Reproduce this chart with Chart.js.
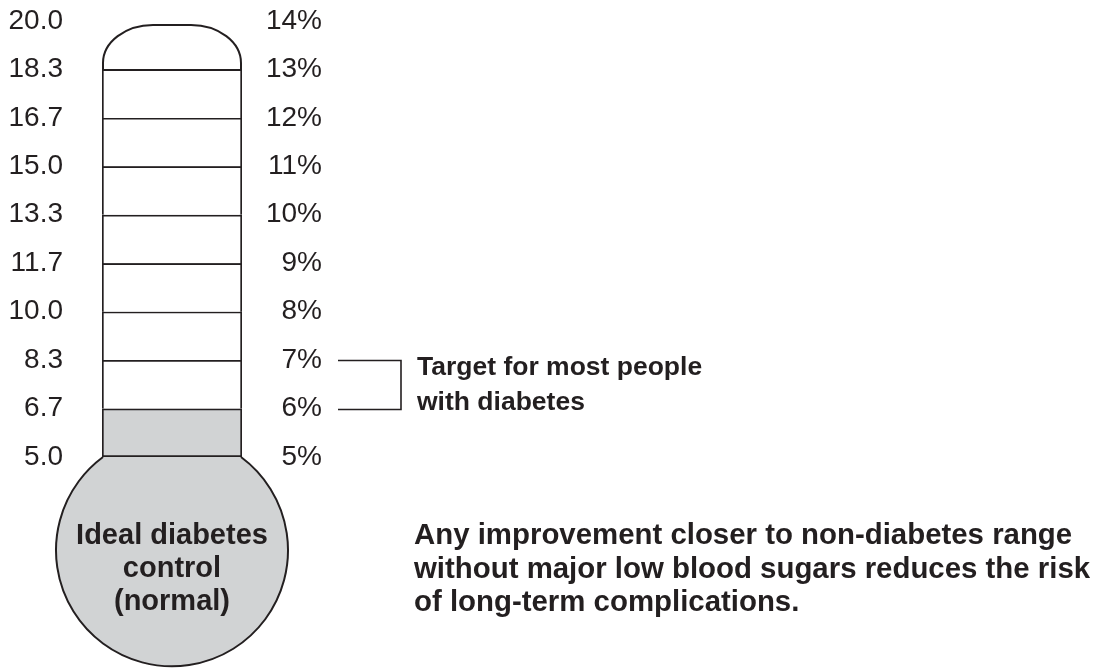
<!DOCTYPE html>
<html>
<head>
<meta charset="utf-8">
<script src="https://cdn.jsdelivr.net/npm/chart.js@4"></script>
<style>
  html, body { margin: 0; padding: 0; background: #fff; }
  #wrap { width: 1097px; height: 668px; position: relative; }
</style>
</head>
<body>
<div id="wrap"><canvas id="thermoChart"></canvas></div>
<script>
// HbA1c levels (right scale) and the matching average glucose in mmol/L (left scale)
const a1cLevels = [5, 6, 7, 8, 9, 10, 11, 12, 13, 14];
const mmolLabels = ["5.0", "6.7", "8.3", "10.0", "11.7", "13.3", "15.0", "16.7", "18.3", "20.0"];
const a1cLabels = ["5%", "6%", "7%", "8%", "9%", "10%", "11%", "12%", "13%", "14%"];
const normalRange = [5, 6];
const targetRange = [6, 7];

const targetNote = ["Target for most people", "with diabetes"];
const bulbNote = ["Ideal diabetes", "control", "(normal)"];
const riskNote = [
  "Any improvement closer to non-diabetes range",
  "without major low blood sugars reduces the risk",
  "of long-term complications.",
];

const INK = "#231f20";
const FILL = "#d1d3d4";
const FONT = '"Liberation Sans", Arial, Helvetica, sans-serif';
const BULB_R = 116;

// one floating bar per band of the tube, all on the same x
const bands = a1cLevels.slice(0, -1).map((v, i) => [v, a1cLevels[i + 1]]);
const capIndex = bands.length - 1;

function labelFor(list, value) {
  const i = a1cLevels.indexOf(value);
  return i >= 0 ? list[i] : "";
}

function bulbCenter(bar) {
  const half = bar.width / 2 - 1;
  return { half, cy: bar.base + Math.sqrt(BULB_R * BULB_R - half * half) };
}

const thermoShape = {
  id: "thermoShape",
  beforeDatasetsDraw(chart) {
    const { ctx } = chart;
    const bars = chart.getDatasetMeta(0).data;
    const bottom = bars[0];
    const { half, cy } = bulbCenter(bottom);
    const a1 = Math.atan2(bottom.base - cy, half);

    ctx.save();
    // bulb
    ctx.beginPath();
    ctx.arc(bottom.x, cy, BULB_R, 0, Math.PI * 2);
    ctx.fillStyle = FILL;
    ctx.fill();
    ctx.beginPath();
    ctx.arc(bottom.x, cy, BULB_R, a1, Math.PI - a1);
    ctx.strokeStyle = INK;
    ctx.lineWidth = 2;
    ctx.stroke();

    // rounded cap on the top band
    const cap = bars[capIndex];
    const left = cap.x - cap.width / 2 + 1;
    const right = cap.x + cap.width / 2 - 1;
    const top = cap.y + 4;
    const base = cap.base;
    const rx = 50;
    const ry = 38;
    const k = 0.45;
    ctx.beginPath();
    ctx.moveTo(left, base);
    ctx.lineTo(left, top + ry);
    ctx.bezierCurveTo(left, top + ry * k, left + rx * k, top, left + rx, top);
    ctx.lineTo(right - rx, top);
    ctx.bezierCurveTo(right - rx * k, top, right, top + ry * k, right, top + ry);
    ctx.lineTo(right, base);
    ctx.fillStyle = "#fff";
    ctx.fill();
    ctx.stroke();
    ctx.restore();
  },
  afterDatasetsDraw(chart) {
    const { ctx, chartArea } = chart;
    const yR = chart.scales.yR;
    const bottom = chart.getDatasetMeta(0).data[0];
    const { cy } = bulbCenter(bottom);

    ctx.save();
    ctx.fillStyle = INK;
    ctx.textBaseline = "middle";

    // text in the bulb
    ctx.font = "bold 29px " + FONT;
    ctx.textAlign = "center";
    bulbNote.forEach((line, i) => ctx.fillText(line, bottom.x, cy - 14 + i * 33));

    // note on the right
    ctx.font = "bold 29.4px " + FONT;
    ctx.textAlign = "left";
    riskNote.forEach((line, i) => ctx.fillText(line, 414, cy - 14 + i * 33.5));

    // target bracket
    const y7 = Math.round(yR.getPixelForValue(targetRange[1])) + 0.5;
    const y6 = Math.round(yR.getPixelForValue(targetRange[0])) + 0.5;
    const x0 = chartArea.right + 96;
    const x1 = x0 + 63;
    ctx.strokeStyle = INK;
    ctx.lineWidth = 1.6;
    ctx.beginPath();
    ctx.moveTo(x0, y7);
    ctx.lineTo(x1, y7);
    ctx.lineTo(x1, y6);
    ctx.lineTo(x0, y6);
    ctx.stroke();

    ctx.font = "bold 26.5px " + FONT;
    const mid = (y6 + y7) / 2;
    targetNote.forEach((line, i) => ctx.fillText(line, x1 + 16, mid - 17 + i * 35));
    ctx.restore();
  },
};

function flatAxis(position, width, padding, labels, crossAlign) {
  return {
    type: "linear",
    position,
    min: a1cLevels[0],
    max: a1cLevels[a1cLevels.length - 1],
    grid: { display: false },
    border: { display: false },
    afterFit: (s) => {
      s.width = width;
      s.paddingTop = 0;
      s.paddingBottom = 0;
    },
    afterBuildTicks: (s) => {
      s.ticks = a1cLevels.map((v) => ({ value: v }));
    },
    ticks: {
      padding,
      crossAlign,
      color: INK,
      font: { family: FONT, size: 28 },
      callback: (v) => labelFor(labels, v),
    },
  };
}

new Chart(document.getElementById("thermoChart").getContext("2d"), {
  type: "bar",
  data: {
    labels: ["HbA1c"],
    datasets: [
      {
        data: bands.map((b) => ({ x: "HbA1c", y: b })),
        backgroundColor: (c) =>
          c.dataIndex === capIndex ? "rgba(0,0,0,0)" : c.raw && c.raw.y[1] <= normalRange[1] ? FILL : "#fff",
        borderColor: INK,
        borderWidth: (c) =>
          c.dataIndex === capIndex ? 0 : { top: 2, left: 2, right: 2, bottom: c.dataIndex === 0 ? 2 : 0 },
        borderSkipped: false,
        barPercentage: 1,
        categoryPercentage: 1,
        xAxisID: "x",
        yAxisID: "yL",
      },
    ],
  },
  options: {
    responsive: true,
    maintainAspectRatio: false,
    animation: false,
    layout: { padding: { left: 0, right: 775, top: 21, bottom: 211 } },
    plugins: { legend: { display: false }, tooltip: { enabled: false } },
    scales: {
      x: { display: false },
      yL: flatAxis("left", 102, 31, mmolLabels, "near"),
      yR: flatAxis("right", 80, 14, a1cLabels, "far"),
    },
  },
  plugins: [thermoShape],
});
</script>
</body>
</html>
